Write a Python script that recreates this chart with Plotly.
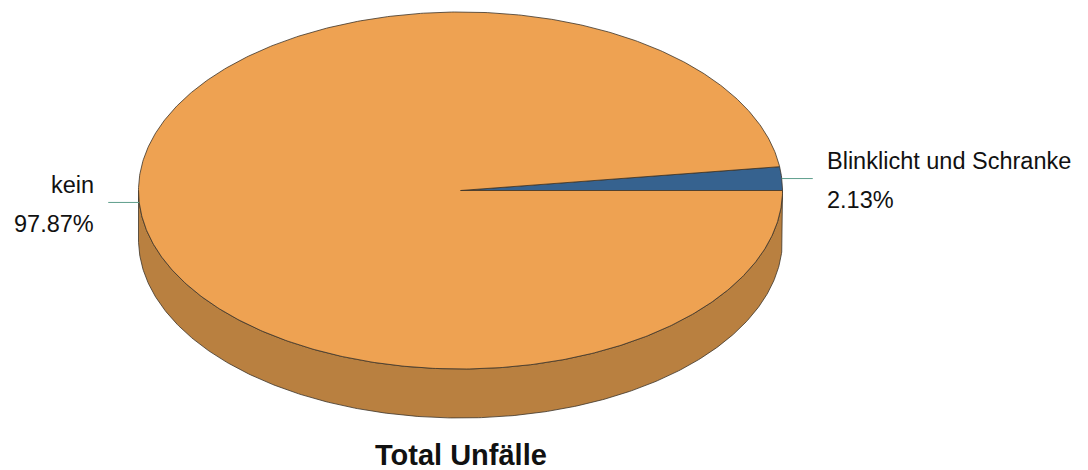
import numpy as np
import plotly.graph_objects as go

# ---- data ----
labels = ["Blinklicht und Schranke", "kein"]
values = [2.13, 97.87]
title_text = "Total Unfälle"

# ---- style / layout parameters ----
top_colors = ["#36628F", "#EEA252"]
side_colors = ["#27486A", "#B98040"]
edge_color = "#3C3328"
leader_color = "#5E9E8C"
W, H = 1088, 470
page_off = 8  # body margin of the page
cx, cy = 460.5, 190.5
rx, ry = 322, 178.5
depth = 49
leader_len = 31
label_gap = 12
line_off = 19.5
label_shift = 2
font_family = "Liberation Sans, Arial, sans-serif"

total = float(sum(values))
fracs = [v / total for v in values]


def arc(a0, a1, dy=0.0, n=None):
    if n is None:
        n = max(2, int(abs(a1 - a0) * 2) + 2)
    t = np.radians(np.linspace(a0, a1, n))
    return cx + rx * np.cos(t), cy - ry * np.sin(t) + dy


fig = go.Figure()

# slice angular ranges (counter-clockwise from 3 o'clock)
ranges = []
a = 0.0
for f in fracs:
    ranges.append((a, a + f * 360.0))
    a += f * 360.0

# side faces (front half only: 180..360 degrees)
for (a0, a1), sc in zip(ranges, side_colors):
    lo, hi = max(a0, 180.0), min(a1, 360.0)
    if hi <= lo:
        continue
    xt, yt = arc(lo, hi)
    xb, yb = arc(hi, lo, dy=depth)
    xs = np.concatenate([xt, xb, xt[:1]])
    ys = np.concatenate([yt, yb, yt[:1]])
    fig.add_trace(go.Scatter(x=xs, y=ys, mode="lines", fill="toself",
                             fillcolor=sc, line=dict(color=edge_color, width=0.8),
                             hoverinfo="skip", showlegend=False))

# top faces
for (a0, a1), tc in zip(ranges, top_colors):
    xa, ya = arc(a0, a1)
    xs = np.concatenate([[cx], xa, [cx]])
    ys = np.concatenate([[cy], ya, [cy]])
    fig.add_trace(go.Scatter(x=xs, y=ys, mode="lines", fill="toself",
                             fillcolor=tc, line=dict(color=edge_color, width=0.8),
                             hoverinfo="skip", showlegend=False))

# leader lines and labels
annotations = []
for (a0, a1), lab, f in zip(ranges, labels, fracs):
    m = (a0 + a1) / 2.0
    x0, y0 = arc(m, m, n=1)
    x0, y0 = float(x0[0]), float(y0[0])
    right = np.cos(np.radians(m)) >= 0
    x1 = x0 + leader_len if right else x0 - leader_len
    fig.add_trace(go.Scatter(x=[x0, x1], y=[y0, y0], mode="lines",
                             line=dict(color=leader_color, width=1),
                             hoverinfo="skip", showlegend=False))
    tx = x1 + label_gap if right else x1 - label_gap
    anchor = "left" if right else "right"
    for txt, dy in ((lab, -line_off), (f"{f * 100:.2f}%", line_off)):
        annotations.append(dict(x=tx, y=y0 + dy + label_shift, xref="x", yref="y", text=txt,
                                showarrow=False, xanchor=anchor, yanchor="middle",
                                font=dict(family=font_family, size=23.5, color="#111111")))

annotations.append(dict(x=cx, y=455, xref="x", yref="y", text=f"<b>{title_text}</b>",
                        showarrow=False, xanchor="center", yanchor="middle",
                        font=dict(family=font_family, size=29, color="#111111")))

fig.update_layout(
    width=W, height=H, margin=dict(l=0, r=0, t=0, b=0),
    paper_bgcolor="white", plot_bgcolor="white",
    xaxis=dict(range=[page_off, W + page_off], visible=False, fixedrange=True),
    yaxis=dict(range=[H + page_off, page_off], visible=False, fixedrange=True),
    annotations=annotations, showlegend=False,
)

fig.write_html("out.html")
